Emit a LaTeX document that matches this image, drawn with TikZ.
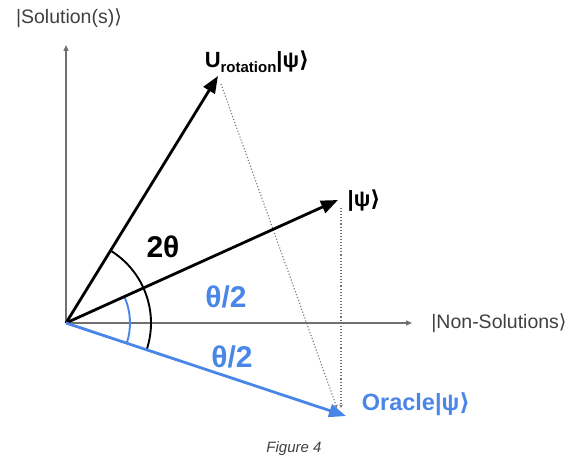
\documentclass[tikz,border=0pt]{standalone}
\usepackage{fontspec}
\setmainfont{Liberation Sans}
\newfontfamily\djv{DejaVu Sans}
\usetikzlibrary{arrows.meta}
\definecolor{gblue}{HTML}{4A86E8}
\definecolor{axgray}{HTML}{707070}
\definecolor{txtgray}{HTML}{404040}
\newcommand{\rket}{{\djv ⟩}}
\tikzset{
  axis/.style={axgray, line width=1.3pt, -{Triangle[length=6pt,width=5pt]}},
  vec/.style={black, line width=2.8pt, -{Triangle[length=17pt,width=13pt]}},
  bvec/.style={gblue, line width=2.8pt, -{Triangle[length=17pt,width=13pt]}},
  proj/.style={black!55, line width=1.1pt, dotted, -{Stealth[length=3.5pt,width=3.5pt]}},
  axlabel/.style={txtgray, font=\fontsize{19.5}{22}\selectfont, inner sep=0pt},
  vlabel/.style={black, font=\bfseries\fontsize{22}{26}\selectfont, inner sep=0pt},
  blabel/.style={gblue, font=\bfseries\fontsize{23.5}{27}\selectfont, inner sep=0pt},
  anglabel/.style={font=\bfseries\fontsize{30}{34}\selectfont, inner sep=0pt}
}
\begin{document}
\begin{tikzpicture}[x=1pt,y=1pt]
\useasboundingbox (0,0) rectangle (574,470);
\coordinate (O) at (66,147);
\coordinate (ytip) at (66,425);
\coordinate (xtip) at (412,147);
\coordinate (psi) at (338,270);
\coordinate (U) at (218,394);
\coordinate (orc) at (346,54);
\coordinate (Ufoot) at (337,62);
\coordinate (psifoot) at (341,62);
\coordinate (Ustart) at (221,386);
\coordinate (psistart) at (341,262);
% axes
\draw[axis] (O) -- (ytip);
\draw[axis] (O) -- (xtip);
\node[axlabel] (sol) at (69,452) {|Solution(s)\rket};
\node[axlabel] (non) at (499,147) {|Non-Solutions\rket};
% projections
\draw[proj] (Ustart) -- (Ufoot);
\draw[proj] (psistart) -- (psifoot);
% arcs
\draw[black, line width=1.9pt] (O) ++(-18.4:85) arc[start angle=-18.4, end angle=58.4, radius=85];
\draw[gblue, line width=1.9pt] (O) ++(-18.4:64) arc[start angle=-18.4, end angle=24.3, radius=64];
% vectors
\draw[vec] (O) -- (U);
\draw[vec] (O) -- (psi);
\draw[bvec] (O) -- (orc);
% labels
\node[vlabel] (Ul) at (257,408) {U\raisebox{-0.45ex}{\fontsize{15}{17}\selectfont rotation}|ψ{\djv\bfseries ⟩}};
\node[vlabel] (psil) at (364,269) {|ψ{\djv\bfseries ⟩}};
\node[blabel] (orcl) at (416,66) {Oracle|ψ{\djv\bfseries ⟩}};
\node[anglabel, black] (twoth) at (163,223) {2θ};
\node[anglabel, gblue] (th1) at (226,173) {θ/2};
\node[anglabel, gblue] (th2) at (232,113) {θ/2};
\node[txtgray, font=\itshape\fontsize{15}{17}\selectfont] (fig) at (294,21) {Figure 4};
\end{tikzpicture}
\end{document}
